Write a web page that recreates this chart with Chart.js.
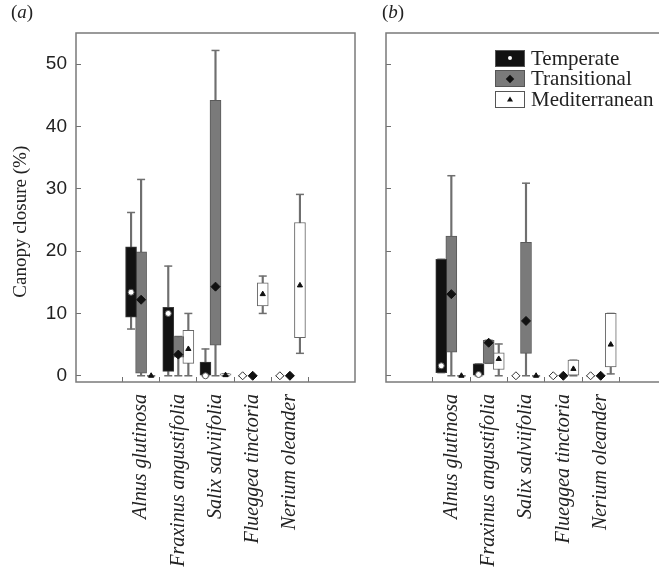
<!DOCTYPE html>
<html>
<head>
<meta charset="utf-8">
<script src="https://cdn.jsdelivr.net/npm/chart.js@4.4.1/dist/chart.umd.min.js"></script>
<style>
  html, body { margin: 0; padding: 0; background: #fff; overflow: hidden; }
  #wrap { position: relative; width: 659px; height: 576px; overflow: hidden; }
  .panel { position: absolute; top: 0; height: 576px; }
  #panel-a { left: 0; width: 370px; }
  #panel-b { left: 360px; width: 320px; }
  .tag { position: absolute; top: 1px; font: 19px "Liberation Serif", serif; color: #222; }
  .tag i { font-style: italic; }
  #legend { position: absolute; left: 495px; top: 48px; font: 21px "Liberation Serif", serif; color: #222; }
  .row { display: flex; align-items: center; height: 20.5px; }
  .sw { position: relative; width: 28px; height: 15px; border: 1px solid #555; margin-right: 6px; box-sizing: content-box; }
  .mk { position: absolute; left: 50%; top: 50%; transform: translate(-50%, -50%); }
</style>
</head>
<body>
<div id="wrap">
  <div class="panel" id="panel-a"><canvas id="chartA"></canvas></div>
  <div class="panel" id="panel-b"><canvas id="chartB"></canvas></div>
  <div class="tag" style="left:11px">(<i>a</i>)</div>
  <div class="tag" style="left:382px">(<i>b</i>)</div>
  <div id="legend"></div>
</div>
<script>
const species = ["Alnus glutinosa", "Fraxinus angustifolia", "Salix salviifolia", "Flueggea tinctoria", "Nerium oleander"];
const zones = ["Temperate", "Transitional", "Mediterranean"];
const yTicks = [0, 10, 20, 30, 40, 50];

// panel (a): box = q1..q3, whiskers = min..max, marker = mean
const aTempMin  = [7.5, 0, 0, 0, 0];
const aTempQ1   = [9.4, 0.7, 0, 0, 0];
const aTempQ3   = [20.7, 11.0, 2.2, 0, 0];
const aTempMax  = [26.2, 17.6, 4.3, 0, 0];
const aTempMean = [13.4, 10.0, 0, 0, 0];

const aTranMin  = [0, 0, 0, 0, 0];
const aTranQ1   = [0.4, 3.0, 4.9, 0, 0];
const aTranQ3   = [19.9, 6.3, 44.2, 0, 0];
const aTranMax  = [31.5, 6.3, 52.2, 0, 0];
const aTranMean = [12.2, 3.4, 14.3, 0, 0];

const aMedMin  = [0, 0, 0, 10.0, 3.6];
const aMedQ1   = [0, 2.0, 0, 11.2, 6.1];
const aMedQ3   = [0, 7.3, 0.3, 14.9, 24.6];
const aMedMax  = [0, 10.0, 0.3, 16.0, 29.1];
const aMedMean = [0, 4.3, 0.1, 13.1, 14.5];

// panel (b)
const bTempMin  = [0.5, 0, 0, 0, 0];
const bTempQ1   = [0.5, 0, 0, 0, 0];
const bTempQ3   = [18.7, 1.9, 0, 0, 0];
const bTempMax  = [18.7, 1.9, 0, 0, 0];
const bTempMean = [1.6, 0.2, 0, 0, 0];

const bTranMin  = [0, 2.0, 0, 0, 0];
const bTranQ1   = [3.8, 2.0, 3.6, 0, 0];
const bTranQ3   = [22.4, 5.7, 21.4, 0, 0];
const bTranMax  = [32.1, 5.7, 30.9, 0, 0];
const bTranMean = [13.1, 5.3, 8.8, 0, 0];

const bMedMin  = [0, 0, 0, 0, 0.3];
const bMedQ1   = [0, 1.0, 0, 0, 1.4];
const bMedQ3   = [0, 3.7, 0, 2.5, 10.0];
const bMedMax  = [0, 5.1, 0, 2.5, 10.0];
const bMedMean = [0, 2.7, 0, 1.1, 5.0];

const zoneOffset = [-0.27, 0, 0.27];
const zoneStyle = [
  { fill: "#121212", border: "#3c3c3c", marker: "circle", mFill: "#fff", mBorder: "#555", radius: 3 },
  { fill: "#7a7a7a", border: "#5a5a5a", marker: "rectRot", mFill: "#111", mBorder: "#111", radius: 4.5 },
  { fill: "#ffffff", border: "#666", marker: "triangle", mFill: "#111", mBorder: "#111", radius: 3 },
];
const lineGray = "#6f6f6f";

function buildDatasets(series) {
  const means = [], boxes = [], caps = [], whiskers = [];
  series.forEach((s, z) => {
    const st = zoneStyle[z];
    const xs = species.map((_, i) => i + 1 + zoneOffset[z]);
    // temperate groups with no cover at all show an open diamond
    const emptyTemp = (i) => z === 0 && s.max[i] === 0;
    means.push({
      type: "scatter",
      label: zones[z] + " mean",
      data: xs.map((x, i) => ({ x, y: s.mean[i] })),
      pointStyle: (c) => (emptyTemp(c.dataIndex) ? "rectRot" : st.marker),
      radius: (c) => (emptyTemp(c.dataIndex) ? 4 : st.radius),
      backgroundColor: st.mFill,
      borderColor: (c) => (emptyTemp(c.dataIndex) ? "#333" : st.mBorder),
      borderWidth: 1,
      order: 0,
    });
    boxes.push({
      type: "bar",
      label: zones[z],
      data: xs.map((x, i) => ({ x, y: [s.q1[i], s.q3[i]] })),
      backgroundColor: st.fill,
      borderColor: st.border,
      borderWidth: 1,
      borderSkipped: false,
      barThickness: 11,
      grouped: false,
      order: 1,
    });
    caps.push({
      type: "scatter",
      label: zones[z] + " caps",
      data: xs.flatMap((x, i) => [{ x, y: s.min[i] }, { x, y: s.max[i] }]),
      pointStyle: "line",
      radius: 4,
      borderColor: lineGray,
      borderWidth: 1.5,
      order: 2,
    });
    whiskers.push({
      type: "bar",
      label: zones[z] + " range",
      data: xs.map((x, i) => ({ x, y: [s.min[i], s.max[i]] })),
      backgroundColor: lineGray,
      borderWidth: 0,
      barThickness: 1.5,
      grouped: false,
      order: 3,
    });
  });
  return [...means, ...boxes, ...caps, ...whiskers];
}

const framePlugin = {
  id: "frame",
  afterDraw(chart) {
    const { ctx, chartArea: a } = chart;
    ctx.save();
    ctx.strokeStyle = "#7a7a7a";
    ctx.lineWidth = 1.5;
    ctx.strokeRect(a.left, a.top, a.right - a.left, a.bottom - a.top);
    ctx.restore();
  },
};

function makeChart(canvas, series, opts) {
  return new Chart(canvas, {
    type: "bar",
    data: { datasets: buildDatasets(series) },
    plugins: [framePlugin],
    options: {
      responsive: true,
      maintainAspectRatio: false,
      animation: false,
      events: [],
      layout: { padding: { top: 33, left: 0, right: opts.rightPad, bottom: 0 } },
      plugins: { legend: { display: false }, tooltip: { enabled: false } },
      scales: {
        x: {
          type: "linear",
          min: 0,
          max: 6,
          afterBuildTicks: (s) => { s.ticks = species.map((_, i) => ({ value: i + 1 })); },
          afterFit: (s) => { s.height = 194; },
          border: { display: false },
          grid: { drawOnChartArea: false, drawTicks: true, tickLength: -5, color: lineGray },
          ticks: {
            autoSkip: false,
            minRotation: 90,
            maxRotation: 90,
            padding: 17,
            color: "#222",
            font: { family: "Liberation Serif", size: 20, style: "italic" },
            callback: (v) => species[v - 1] || "",
          },
        },
        y: {
          min: -1,
          max: 55,
          afterBuildTicks: (s) => { s.ticks = yTicks.map((v) => ({ value: v })); },
          afterFit: (s) => { s.width = opts.yWidth; },
          border: { display: false },
          grid: { drawOnChartArea: false, drawTicks: true, tickLength: -5, color: lineGray },
          ticks: {
            padding: 14,
            color: "#222",
            font: { family: "Liberation Sans", size: 19 },
            callback: (v) => (opts.showLabels ? v : ""),
          },
          title: {
            display: opts.showLabels,
            // trailing en spaces nudge the centred title down a little
            text: "Canopy closure (%)\u2002\u2002\u2002",
            color: "#222",
            font: { family: "Liberation Serif", size: 19 },
            padding: { top: 10, bottom: 0 },
          },
        },
      },
    },
  });
}

makeChart(document.getElementById("chartA"), [
  { min: aTempMin, q1: aTempQ1, q3: aTempQ3, max: aTempMax, mean: aTempMean },
  { min: aTranMin, q1: aTranQ1, q3: aTranQ3, max: aTranMax, mean: aTranMean },
  { min: aMedMin, q1: aMedQ1, q3: aMedQ3, max: aMedMax, mean: aMedMean },
], { yWidth: 76, rightPad: 15, showLabels: true });

makeChart(document.getElementById("chartB"), [
  { min: bTempMin, q1: bTempQ1, q3: bTempQ3, max: bTempMax, mean: bTempMean },
  { min: bTranMin, q1: bTranQ1, q3: bTranQ3, max: bTranMax, mean: bTranMean },
  { min: bMedMin, q1: bMedQ1, q3: bMedQ3, max: bMedMax, mean: bMedMean },
], { yWidth: 26, rightPad: 14, showLabels: false });

// legend: swatch with the mean marker drawn inside
const legend = document.getElementById("legend");
const markerCss = [
  "width:4px;height:4px;border-radius:50%;background:#fff;",
  "width:6px;height:6px;background:#111;transform:translate(-50%,-50%) rotate(45deg);",
  "width:0;height:0;border-left:3px solid transparent;border-right:3px solid transparent;border-bottom:5px solid #111;",
];
zones.forEach((z, i) => {
  const row = document.createElement("div");
  row.className = "row";
  const sw = document.createElement("span");
  sw.className = "sw";
  sw.style.background = zoneStyle[i].fill;
  const mk = document.createElement("span");
  mk.className = "mk";
  mk.style.cssText += markerCss[i];
  sw.appendChild(mk);
  row.appendChild(sw);
  row.appendChild(document.createTextNode(z));
  legend.appendChild(row);
});
</script>
</body>
</html>
